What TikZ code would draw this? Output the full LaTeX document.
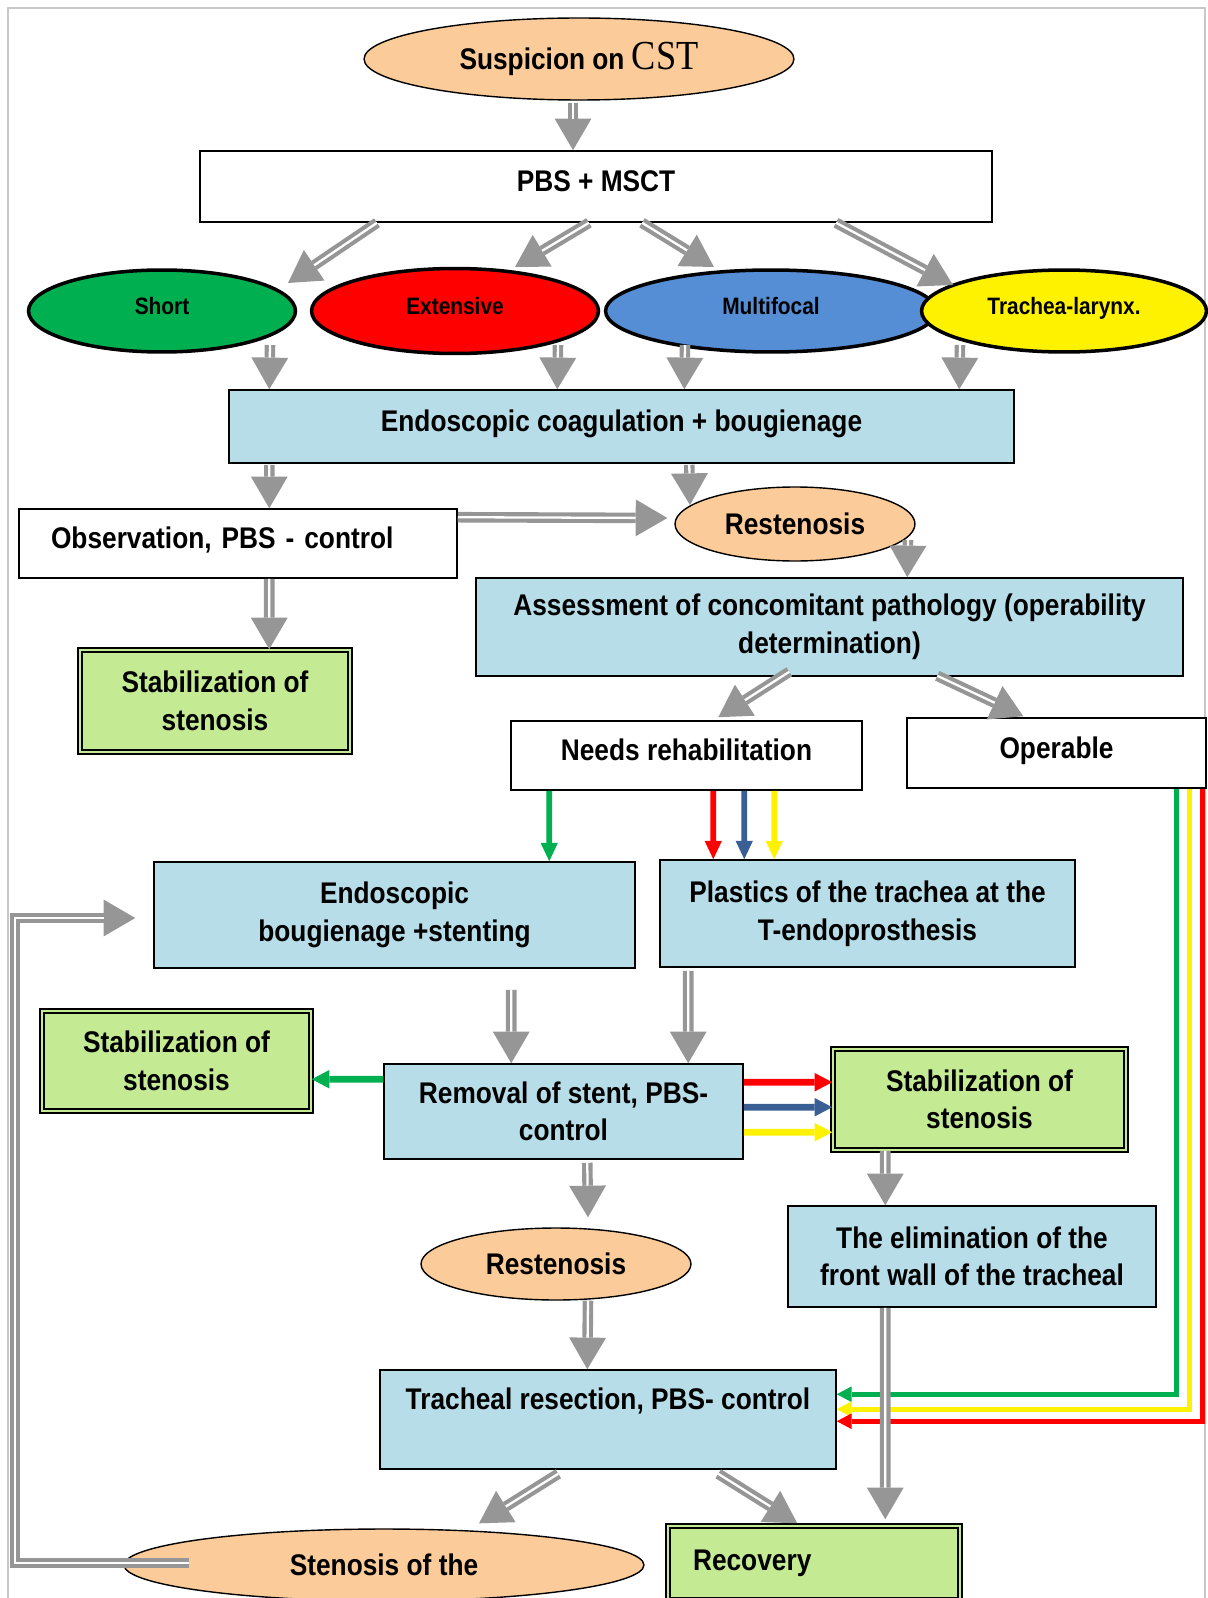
\documentclass[tikz,border=0pt]{standalone}
\usepackage{fontspec}
\setmainfont{Liberation Sans}[FakeStretch=0.88]
\newfontfamily\cstfont{Liberation Serif}[FakeStretch=0.88]
\usetikzlibrary{arrows.meta,calc,shapes.geometric}
\definecolor{peach}{HTML}{FBCB99}
\definecolor{paleblue}{HTML}{B7DDE8}
\definecolor{palegreen}{HTML}{C5EA94}
\definecolor{grassgreen}{HTML}{00B050}
\definecolor{skyblue}{HTML}{558ED5}
\definecolor{arrowgray}{HTML}{969696}
\definecolor{navyline}{HTML}{3A5F94}
\definecolor{framegray}{HTML}{C8C8C8}
\begin{document}
\begin{tikzpicture}[x=0.02cm, y=-0.02cm,
  font=\bfseries\fontsize{17}{21.4}\selectfont,
  every node/.style={inner sep=0pt, align=center},
  oneline/.style={text height=11pt, text depth=5pt},
  plainbox/.style={rectangle, draw=black, line width=0.9pt, fill=white},
  bluebox/.style={plainbox, fill=paleblue},
  stabbox/.style={rectangle, draw=black, line width=0.9pt, double=palegreen, double distance=1.4pt, fill=palegreen},
  oval/.style={ellipse, draw=black, line width=0.8pt, fill=peach},
  kind/.style={ellipse, draw=black, line width=2pt, text height=9.8pt, text depth=6pt,
    font=\bfseries\fontsize{13.5}{16}\selectfont},
  grayarrow/.style={draw=arrowgray, line width=6pt, -{Triangle[length=18pt,width=21pt,line width=0pt]},
    postaction={draw=white, line width=1.3pt, -, shorten >=18pt}},
  slimarrow/.style={line width=3.2pt, -{Triangle[length=10.4pt,width=9.8pt,line width=0pt]}},
  fatarrow/.style={line width=3.8pt, -{Triangle[length=10pt,width=10.5pt,line width=0pt]}},
  sidearrow/.style={line width=3pt, -{Triangle[length=8.5pt,width=9pt,line width=0pt]}}]
  \useasboundingbox (0,0) rectangle (1207,1598);
  % 外框
  \draw[framegray, line width=1.2pt] (8,1598) -- (8,8) -- (1205,8) -- (1205,1598);

  % 第一层：怀疑与检查
  \node[oval, minimum width=8.6cm, minimum height=1.64cm] (susp) at (579,59)
    {Suspicion on {\cstfont\mdseries\fontsize{23.5}{24}\selectfont CST}};
  \node[plainbox, oneline, minimum width=15.84cm, minimum height=1.42cm] (pbs) at (596,186.5) {PBS + MSCT};

  % 狭窄类型
  \node[kind, fill=grassgreen, minimum width=5.34cm, minimum height=1.64cm] (short) at (162,311) {Short};
  \node[kind, fill=red, minimum width=5.74cm, minimum height=1.7cm] (ext) at (455,311) {Extensive};
  \node[kind, fill=skyblue, minimum width=6.62cm, minimum height=1.64cm] (multi) at (771,311) {Multifocal};
  \node[kind, fill=yellow, minimum width=5.7cm, minimum height=1.64cm] (larynx) at (1064,311) {Trachea-larynx.};

  % 内镜治疗
  \node[bluebox, oneline, minimum width=15.7cm, minimum height=1.46cm] (coag) at (621.5,426.5) {Endoscopic coagulation + bougienage};
  \node[plainbox, oneline, minimum width=8.76cm, minimum height=1.38cm, text width=7.48cm, align=left] (obs) at (238,543.5) {Observation, PBS - control};
  \node[oval, minimum width=4.8cm, minimum height=1.48cm] (rest1) at (795,524) {Restenosis};
  \node[bluebox, minimum width=14.14cm, minimum height=1.96cm] (assess) at (829.5,627)
    {Assessment of concomitant pathology (operability\\determination)};
  \node[stabbox, minimum width=5.4cm, minimum height=2.04cm] (stab1) at (215,701) {Stabilization of\\stenosis};
  \node[plainbox, oneline, minimum width=7.02cm, minimum height=1.38cm] (needs) at (686.5,755.5) {Needs rehabilitation};
  \node[plainbox, oneline, minimum width=5.98cm, minimum height=1.4cm] (oper) at (1056.5,753) {Operable};

  % 康复分支
  \node[bluebox, minimum width=9.62cm, minimum height=2.12cm] (bstent) at (394.5,915) {Endoscopic\\bougienage +stenting};
  \node[bluebox, minimum width=8.3cm, minimum height=2.14cm] (plast) at (867.5,913.5) {Plastics of the trachea at the\\T-endoprosthesis};
  \node[stabbox, minimum width=5.38cm, minimum height=2cm] (stab2) at (176.5,1061) {Stabilization of\\stenosis};
  \node[bluebox, minimum width=7.18cm, minimum height=1.9cm] (remov) at (563.5,1111.5) {Removal of stent, PBS-\\control};
  \node[stabbox, minimum width=5.86cm, minimum height=2.02cm] (stab3) at (979.5,1099.5) {Stabilization of\\stenosis};
  \node[oval, minimum width=5.4cm, minimum height=1.44cm] (rest2) at (556,1264) {Restenosis};
  \node[bluebox, minimum width=7.36cm, minimum height=2.02cm] (elim) at (972,1256.5) {The elimination of the\\front wall of the tracheal};

  % 手术与结局
  \node[bluebox, minimum width=9.12cm, minimum height=1.98cm] (res) at (608,1419.5) {};
  \node[anchor=base] (restext) at (608,1409) {Tracheal resection, PBS- control};
  \node[oval, minimum width=10.4cm, minimum height=1.44cm] (sten) at (384,1565) {Stenosis of the};
  \node[stabbox, minimum width=5.84cm, minimum height=1.48cm, text width=4.84cm, align=left] (recov) at (814,1563) {Recovery};

  % 彩色连线
  \draw[sidearrow, grassgreen] ($(oper.south west)+(270,0)$) |- ($(res.north east)+(0,25)$);
  \draw[sidearrow, yellow] ($(oper.south west)+(283,0)$) |- ($(res.north east)+(0,40)$);
  \draw[sidearrow, red] ($(oper.south west)+(296,0)$) |- ($(res.north east)+(0,52)$);
  \draw[slimarrow, grassgreen] ($(needs.south west)+(39,0)$) -- ($(bstent.north west)+(396,0)$);
  \draw[slimarrow, red] ($(needs.south west)+(203,0)$) -- ($(plast.north west)+(54,0)$);
  \draw[slimarrow, navyline] ($(needs.south west)+(234,0)$) -- ($(plast.north west)+(85,0)$);
  \draw[slimarrow, yellow] ($(needs.south west)+(264,0)$) -- ($(plast.north west)+(115,0)$);
  \draw[fatarrow, grassgreen] ($(remov.north west)+(0,16)$) -- ($(stab2.north east)+(0,69)$);
  \draw[fatarrow, red] ($(remov.north east)+(0,19)$) -- ($(stab3.north west)+(0,34)$);
  \draw[fatarrow, navyline] ($(remov.north east)+(0,44)$) -- ($(stab3.north west)+(0,59)$);
  \draw[fatarrow, yellow] ($(remov.north east)+(0,69)$) -- ($(stab3.north west)+(0,84)$);

  % 灰色双线箭头
  \draw[grayarrow] ($(susp.south)+(-6,2)$) -- ($(pbs.north)+(-23,0)$);
  \draw[grayarrow] ($(pbs.south)+(-219,0)$) -- ($(short)+(126,-28)$);
  \draw[grayarrow] ($(pbs.south)+(-7,0)$) -- ($(ext)+(60,-44)$);
  \draw[grayarrow] ($(pbs.south)+(46,0)$) -- ($(multi)+(-57,-44)$);
  \draw[grayarrow] ($(pbs.south)+(240,0)$) -- ($(larynx)+(-111,-26)$);
  \draw[grayarrow] ($(short)+(108,34)$) -- ($(coag.north west)+(41,0)$);
  \draw[grayarrow] ($(ext)+(103,34)$) -- ($(coag.north west)+(329,0)$);
  \draw[grayarrow] ($(multi)+(-86,34)$) -- ($(coag.north west)+(456,0)$);
  \draw[grayarrow] ($(larynx)+(-104,34)$) -- ($(coag.north west)+(731,0)$);
  \draw[grayarrow] ($(coag.south west)+(41,1)$) -- ($(obs.north west)+(251,0)$);
  \draw[grayarrow] ($(coag.south west)+(461,1)$) -- ($(rest1)+(-105,-19)$);
  \draw[grayarrow] ($(obs.north east)+(0,9)$) -- ($(rest1.west)+(-7,-6)$);
  \draw[grayarrow] ($(rest1)+(113,16)$) -- ($(assess.north west)+(432,0)$);
  \draw[grayarrow] ($(obs.south west)+(251,0)$) -- ($(stab1.north west)+(190,0)$);
  \draw[grayarrow] ($(assess.south west)+(314,-5)$) -- ($(needs.north west)+(208,-3)$);
  \draw[grayarrow] ($(assess.south west)+(462,-1)$) -- ($(oper.north west)+(117,-1)$);
  \draw[grayarrow] ($(bstent.south west)+(358,21)$) -- ($(remov.north west)+(128,0)$);
  \draw[grayarrow] ($(plast.south west)+(29,3)$) -- ($(remov.north west)+(305,0)$);
  \draw[grayarrow] ($(remov.south west)+(204,3)$) -- ($(rest2.north)+(32,-10)$);
  \draw[grayarrow] ($(stab3.south west)+(53,0)$) -- ($(elim.north west)+(98,0)$);
  \draw[grayarrow] ($(rest2.south)+(32,0)$) -- ($(res.north west)+(208,0)$);
  \draw[grayarrow] ($(elim.south west)+(98,0)$) -- ($(recov.north west)+(218,-6)$);
  \draw[grayarrow] ($(res.south west)+(179,4)$) -- ($(sten.north)+(95,-5)$);
  \draw[grayarrow] ($(res.south west)+(339,4)$) -- ($(recov.north west)+(130,-2)$);
  % 复发回路
  \draw[grayarrow] ($(sten)+(-195,-2)$) -- ++(-174,0) |- ($(bstent.west)+(-18,3)$);
\end{tikzpicture}
\end{document}
